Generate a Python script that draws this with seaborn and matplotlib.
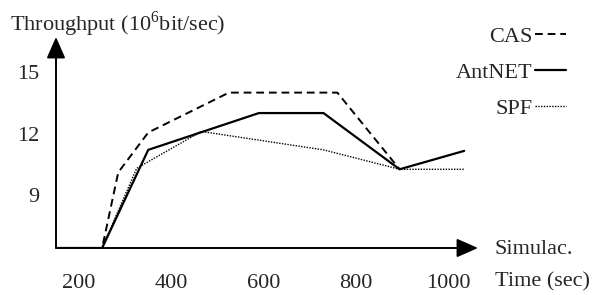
import matplotlib
matplotlib.use("Agg")
import matplotlib.pyplot as plt
import seaborn as sns
import pandas as pd

# data (time in sec, throughput in 10^6 bit/sec)
cas_time = [150, 250, 285, 350, 525, 760, 895]
cas_tput = [6.4, 6.4, 10.1, 12.05, 14.0, 14.0, 10.25]
ant_time = [150, 250, 350, 590, 730, 895, 1035]
ant_tput = [6.4, 6.4, 11.2, 13.0, 13.0, 10.25, 11.15]
spf_time = [150, 250, 325, 465, 730, 895, 1035]
spf_tput = [6.4, 6.4, 10.3, 12.1, 11.2, 10.25, 10.25]

x_ticks = [200, 400, 600, 800, 1000]
y_ticks = [9, 12, 15]

sns.set_style("white")
plt.rcParams['font.family'] = ['Liberation Serif', 'DejaVu Serif']
plt.rcParams['mathtext.fontset'] = 'custom'
plt.rcParams['mathtext.rm'] = 'Liberation Serif'
FS = 16

df = pd.concat([
    pd.DataFrame({'time': cas_time, 'tput': cas_tput, 'method': 'CAS'}),
    pd.DataFrame({'time': ant_time, 'tput': ant_tput, 'method': 'AntNET'}),
    pd.DataFrame({'time': spf_time, 'tput': spf_tput, 'method': 'SPF'}),
])

styles = {
    'CAS': dict(lw=1.4, linestyle=(0, (4, 2.5))),
    'AntNET': dict(lw=1.6, linestyle='-'),
    'SPF': dict(lw=1.0, linestyle=(0, (1, 1))),
}

fig = plt.figure(figsize=(6.02, 2.95), dpi=100)
ax = fig.add_axes([56 / 602, 47 / 295, 422 / 602, 211 / 295])

for m in ['CAS', 'AntNET', 'SPF']:
    sub = df[df['method'] == m]
    sns.lineplot(data=sub, x='time', y='tput', ax=ax, color='black',
                 label=m, **styles[m])

ax.set_xlim(150, 1065)
ax.set_ylim(6.4, 16.72)
ax.set_xticks(x_ticks)
ax.set_yticks(y_ticks)
ax.set_xticklabels([str(v) for v in x_ticks], fontsize=FS)
ax.set_yticklabels([str(v) for v in y_ticks], fontsize=FS)
ax.tick_params(axis='x', length=0, pad=19)
ax.tick_params(axis='y', length=0, pad=12)
ax.set_xlabel('')
ax.set_ylabel('')
for s in ax.spines.values():
    s.set_visible(False)

# axes drawn as arrows
arrow = dict(arrowstyle='-|>,head_length=0.5,head_width=0.22', color='black',
             lw=1.4, mutation_scale=26, shrinkA=0, shrinkB=0)
ax.annotate('', xy=(1, 0), xytext=(0, 0), xycoords='axes fraction',
            arrowprops=arrow, annotation_clip=False)
ax.annotate('', xy=(0, 1), xytext=(0, 0), xycoords='axes fraction',
            arrowprops=arrow, annotation_clip=False)

fig.text(10 / 602, 1 - 24 / 295, 'Throughput (10$^{6}$bit/sec)', fontsize=FS,
         ha='left', va='center')
fig.text(495 / 602, 1 - 250 / 295, 'Simulac.', fontsize=FS, ha='left', va='center')
fig.text(495 / 602, 1 - 282 / 295, 'Time (sec)', fontsize=FS, ha='left', va='center')

ax.legend(loc='upper right', bbox_to_anchor=(577 / 602, 1 - 15 / 295),
          bbox_transform=fig.transFigure, frameon=False, markerfirst=False,
          fontsize=FS, handlelength=1.4, handletextpad=0.1, labelspacing=0.7,
          borderpad=0)

fig.savefig('out.png', dpi=100)
